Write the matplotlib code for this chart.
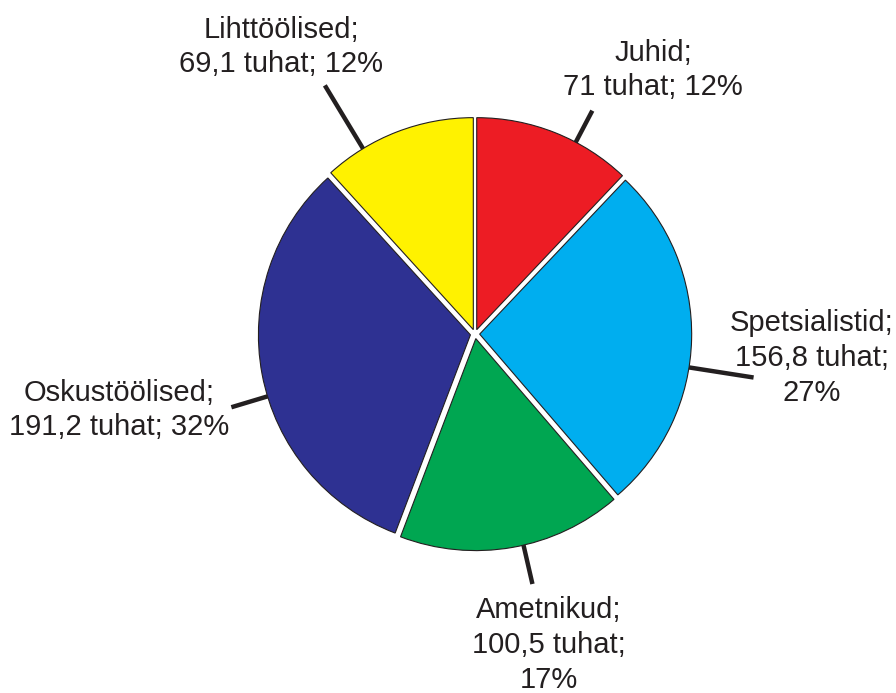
import numpy as np
import matplotlib
matplotlib.use("Agg")
import matplotlib.pyplot as plt

# Andmed (tuhat)
nimed = ["Juhid", "Spetsialistid", "Ametnikud", "Oskustöölised", "Lihttöölised"]
vaartused = [71, 156.8, 100.5, 191.2, 69.1]
varvid = ["#ED1C24", "#00AEEF", "#00A651", "#2E3192", "#FFF200"]

# Siltide paigutus pikslites (keskpunkt) ja joonte seadistus
silt_px = [(653, 70), (812, 358), (549, 645), (119, 410), (281, 47)]
kolm_rida = [False, True, True, False, False]
joone_nihe = [-6, -7.5, 3, 6, 10]
joone_lopp = [1.19, 1.33, 1.21, 1.20, 1.37]

plt.rcParams['font.family'] = ['Liberation Sans', 'DejaVu Sans']
tekst = "#231f20"

cx, cy, sk = 475, 334, 212.0
W, H = 896, 693

fig = plt.figure(figsize=(W / 100, H / 100), dpi=100)
ax = fig.add_axes([0, 0, 1, 1])

wedges, _ = ax.pie(vaartused, colors=varvid, startangle=90, counterclock=False,
                   explode=[0.022] * len(vaartused),
                   wedgeprops=dict(edgecolor=tekst, linewidth=0.8))

kokku = sum(vaartused)
for i, w in enumerate(wedges):
    nurk = np.deg2rad((w.theta1 + w.theta2) / 2 + joone_nihe[i])
    ax.plot([np.cos(nurk) * 1.0, np.cos(nurk) * joone_lopp[i]],
            [np.sin(nurk) * 1.0, np.sin(nurk) * joone_lopp[i]],
            color=tekst, lw=3.2, solid_capstyle='butt', zorder=0)
    v = f"{vaartused[i]:g}".replace(".", ",")
    pr = round(vaartused[i] / kokku * 100)
    if kolm_rida[i]:
        s = f"{nimed[i]};\n{v} tuhat;\n{pr}%"
    else:
        s = f"{nimed[i]};\n{v} tuhat; {pr}%"
    px, py = silt_px[i]
    ax.text((px - cx) / sk, (cy - py) / sk, s, ha='center', va='center',
            fontsize=21, color=tekst, linespacing=1.3)

ax.set_xlim(-cx / sk, (W - cx) / sk)
ax.set_ylim(-(H - cy) / sk, cy / sk)
ax.set_aspect('equal')
ax.axis('off')

fig.savefig("out.png", dpi=100)
